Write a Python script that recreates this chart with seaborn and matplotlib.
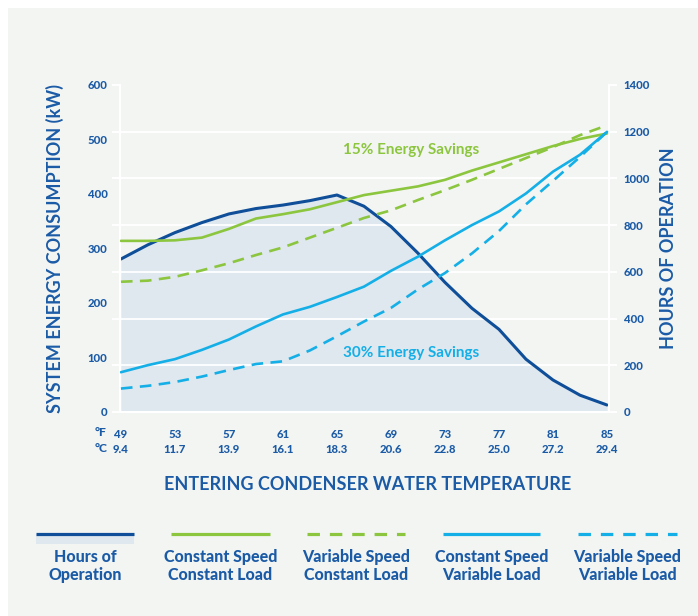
import matplotlib
matplotlib.use("Agg")
import matplotlib.pyplot as plt
from matplotlib.patches import Rectangle
import numpy as np
import pandas as pd
import seaborn as sns

# ---------------- data ----------------
temp_f = [49, 51, 53, 55, 57, 59, 61, 63, 65, 67, 69, 71, 73, 75, 77, 79, 81, 83, 85]
hours_of_operation = [655, 716, 768, 811, 848, 871, 886, 905, 929, 881, 794, 680, 555, 444, 354, 226, 137, 72, 30]
cs_const_load = [314, 314, 315, 320, 336, 355, 363, 372, 385, 398, 406, 414, 426, 443, 458, 473, 488, 501, 511]
vs_const_load = [239, 241, 248, 260, 273, 288, 302, 320, 338, 356, 370, 389, 407, 426, 446, 466, 486, 508, 526]
cs_var_load = [73, 86, 97, 114, 133, 157, 179, 193, 211, 230, 259, 285, 315, 343, 368, 401, 441, 472, 514]
vs_var_load = [43, 48, 55, 65, 77, 88, 93, 113, 139, 166, 191, 225, 255, 291, 332, 381, 424, 468, 514]

tick_f = [49, 53, 57, 61, 65, 69, 73, 77, 81, 85]
tick_c = ["9.4", "11.7", "13.9", "16.1", "18.3", "20.6", "22.8", "25.0", "27.2", "29.4"]
kw_ticks = [0, 100, 200, 300, 400, 500, 600]
hour_ticks = [0, 200, 400, 600, 800, 1000, 1200, 1400]

legend_labels = ["Hours of\nOperation", "Constant Speed\nConstant Load", "Variable Speed\nConstant Load",
                 "Constant Speed\nVariable Load", "Variable Speed\nVariable Load"]

df = pd.DataFrame({"temp_f": temp_f, "hours": hours_of_operation, "cscl": cs_const_load,
                   "vscl": vs_const_load, "csvl": cs_var_load, "vsvl": vs_var_load})

# ---------------- style ----------------
sns.set_theme(style="white")
plt.rcParams["font.family"] = ["Lato", "DejaVu Sans"]
plt.rcParams["font.weight"] = "bold"

BG = "#f3f5f3"
FILL = "#dfe7ef"
DARK = "#0f4e98"
TEXT = "#1b5ba6"
GREEN = "#8cc63f"
CYAN = "#14afe6"
TS = 8.2  # tick label size
HW = 900  # heavy weight for small labels

W, H = 698, 616
fig = plt.figure(figsize=(W / 100, H / 100), dpi=100, facecolor="white")
fig.patches.append(Rectangle((8 / W, 0), 1, 1 - 8 / H, transform=fig.transFigure,
                             facecolor=BG, edgecolor="none", zorder=-10))

x0, x1, ytop, ybot = 120, 609, 85, 412
ax = fig.add_axes([x0 / W, (H - ybot) / H, (x1 - x0) / W, (ybot - ytop) / H])
ax.set_facecolor(BG)
ax2 = ax.twinx()

# hours on primary (drawn below), right side ticks
ax.fill_between(df["temp_f"], df["hours"], 0, color=FILL, lw=0, zorder=0.3)
for hv in hour_ticks[1:-1]:
    ax.axhline(hv, color="white", lw=1.3, zorder=0.5)
sns.lineplot(data=df, x="temp_f", y="hours", ax=ax, color=DARK, lw=2.2, zorder=2)

ax.set_xlim(48.93, 85.15)
ax.set_ylim(0, 1400)
ax2.set_ylim(0, 600)

dash_main = (0, (4.4, 2.8))
sns.lineplot(data=df, x="temp_f", y="cscl", ax=ax2, color=GREEN, lw=1.9)
sns.lineplot(data=df, x="temp_f", y="vscl", ax=ax2, color=GREEN, lw=1.9, linestyle=dash_main)
sns.lineplot(data=df, x="temp_f", y="csvl", ax=ax2, color=CYAN, lw=1.9)
sns.lineplot(data=df, x="temp_f", y="vsvl", ax=ax2, color=CYAN, lw=1.9, linestyle=dash_main)

# axes / spines
for s in ["left", "right", "bottom"]:
    ax.spines[s].set_color("white")
    ax.spines[s].set_linewidth(1.5)
ax.spines["top"].set_visible(False)
for s in ax2.spines.values():
    s.set_visible(False)

ax.yaxis.tick_right()
ax.yaxis.set_label_position("right")
ax.set_yticks(hour_ticks)
ax.set_yticklabels([str(v) for v in hour_ticks], fontweight=HW, fontsize=TS)
ax.tick_params(axis="y", which="major", left=True, right=True, labelleft=False, labelright=True,
               color="white", length=6, width=1.3, pad=4.5, labelcolor=TEXT)

ax2.yaxis.tick_left()
ax2.yaxis.set_label_position("left")
ax2.set_yticks(kw_ticks)
ax2.set_yticklabels([str(v) for v in kw_ticks], fontweight=HW, fontsize=TS)
ax2.tick_params(axis="y", left=True, right=False, labelleft=True, labelright=False,
                length=0, pad=9, labelcolor=TEXT)

ax.set_xticks(tick_f)
ax.set_xticklabels([f"{f}\n{c}" for f, c in zip(tick_f, tick_c)], linespacing=1.45,
                   fontweight=HW, fontsize=TS)
ax.tick_params(axis="x", length=0, pad=12, labelcolor=TEXT)

fig.text(101 / W, 1 - 432 / H, "°F", ha="center", va="center", fontsize=TS + 0.5, fontweight=HW, color=TEXT)
fig.text(101 / W, 1 - 448 / H, "°C", ha="center", va="center", fontsize=TS + 0.5, fontweight=HW, color=TEXT)

ax2.set_ylabel("SYSTEM ENERGY CONSUMPTION (kW)", fontsize=13, fontweight="bold", color=TEXT,
               va="center", rotation=90)
ax2.yaxis.set_label_coords((55 - x0) / (x1 - x0), 0.5)
ax.set_ylabel("HOURS OF OPERATION", fontsize=13, fontweight="bold", color=TEXT, va="center", rotation=90)
ax.yaxis.set_label_coords((668 - x0) / (x1 - x0), 0.5)
ax.set_xlabel("ENTERING CONDENSER WATER TEMPERATURE", fontsize=13, fontweight="bold", color=TEXT, va="center")
ax.xaxis.set_label_coords((367.5 - x0) / (x1 - x0), -(485 - ybot) / (ybot - ytop))
ax2.set_xlabel("")

ax2.text((343 - x0) / (x1 - x0), (ybot - 150) / (ybot - ytop), "15% Energy Savings", transform=ax2.transAxes,
         ha="left", va="center", fontsize=11, fontweight="bold", color=GREEN)
ax2.text((343 - x0) / (x1 - x0), (ybot - 353) / (ybot - ytop), "30% Energy Savings", transform=ax2.transAxes,
         ha="left", va="center", fontsize=11, fontweight="bold", color=CYAN)

# ---------------- legend ----------------
lax = fig.add_axes([0, 0, 1, 1], zorder=5)
lax.set_xlim(0, W)
lax.set_ylim(H, 0)
lax.axis("off")
styles = [(DARK, "-"), (GREEN, "-"), (GREEN, (0, (3.9, 3.1))), (CYAN, "-"), (CYAN, (0, (3.9, 3.1)))]
spans = [(36, 134), (171, 270), (307, 405), (443, 540), (578, 677)]
for i, ((c, ls), (a, b), lab) in enumerate(zip(styles, spans, legend_labels)):
    if i == 0:
        lax.add_patch(Rectangle((a, 534), b - a, 10, facecolor=FILL, edgecolor="none"))
    lax.plot([a, b], [534, 534], color=c, lw=2.3, linestyle=ls, solid_capstyle="butt")
    lax.text((a + b) / 2, 566, lab, ha="center", va="center", fontsize=11.5, fontweight=HW,
             color=TEXT, linespacing=1.1)

fig.savefig("out.png", dpi=100, facecolor=fig.get_facecolor())
